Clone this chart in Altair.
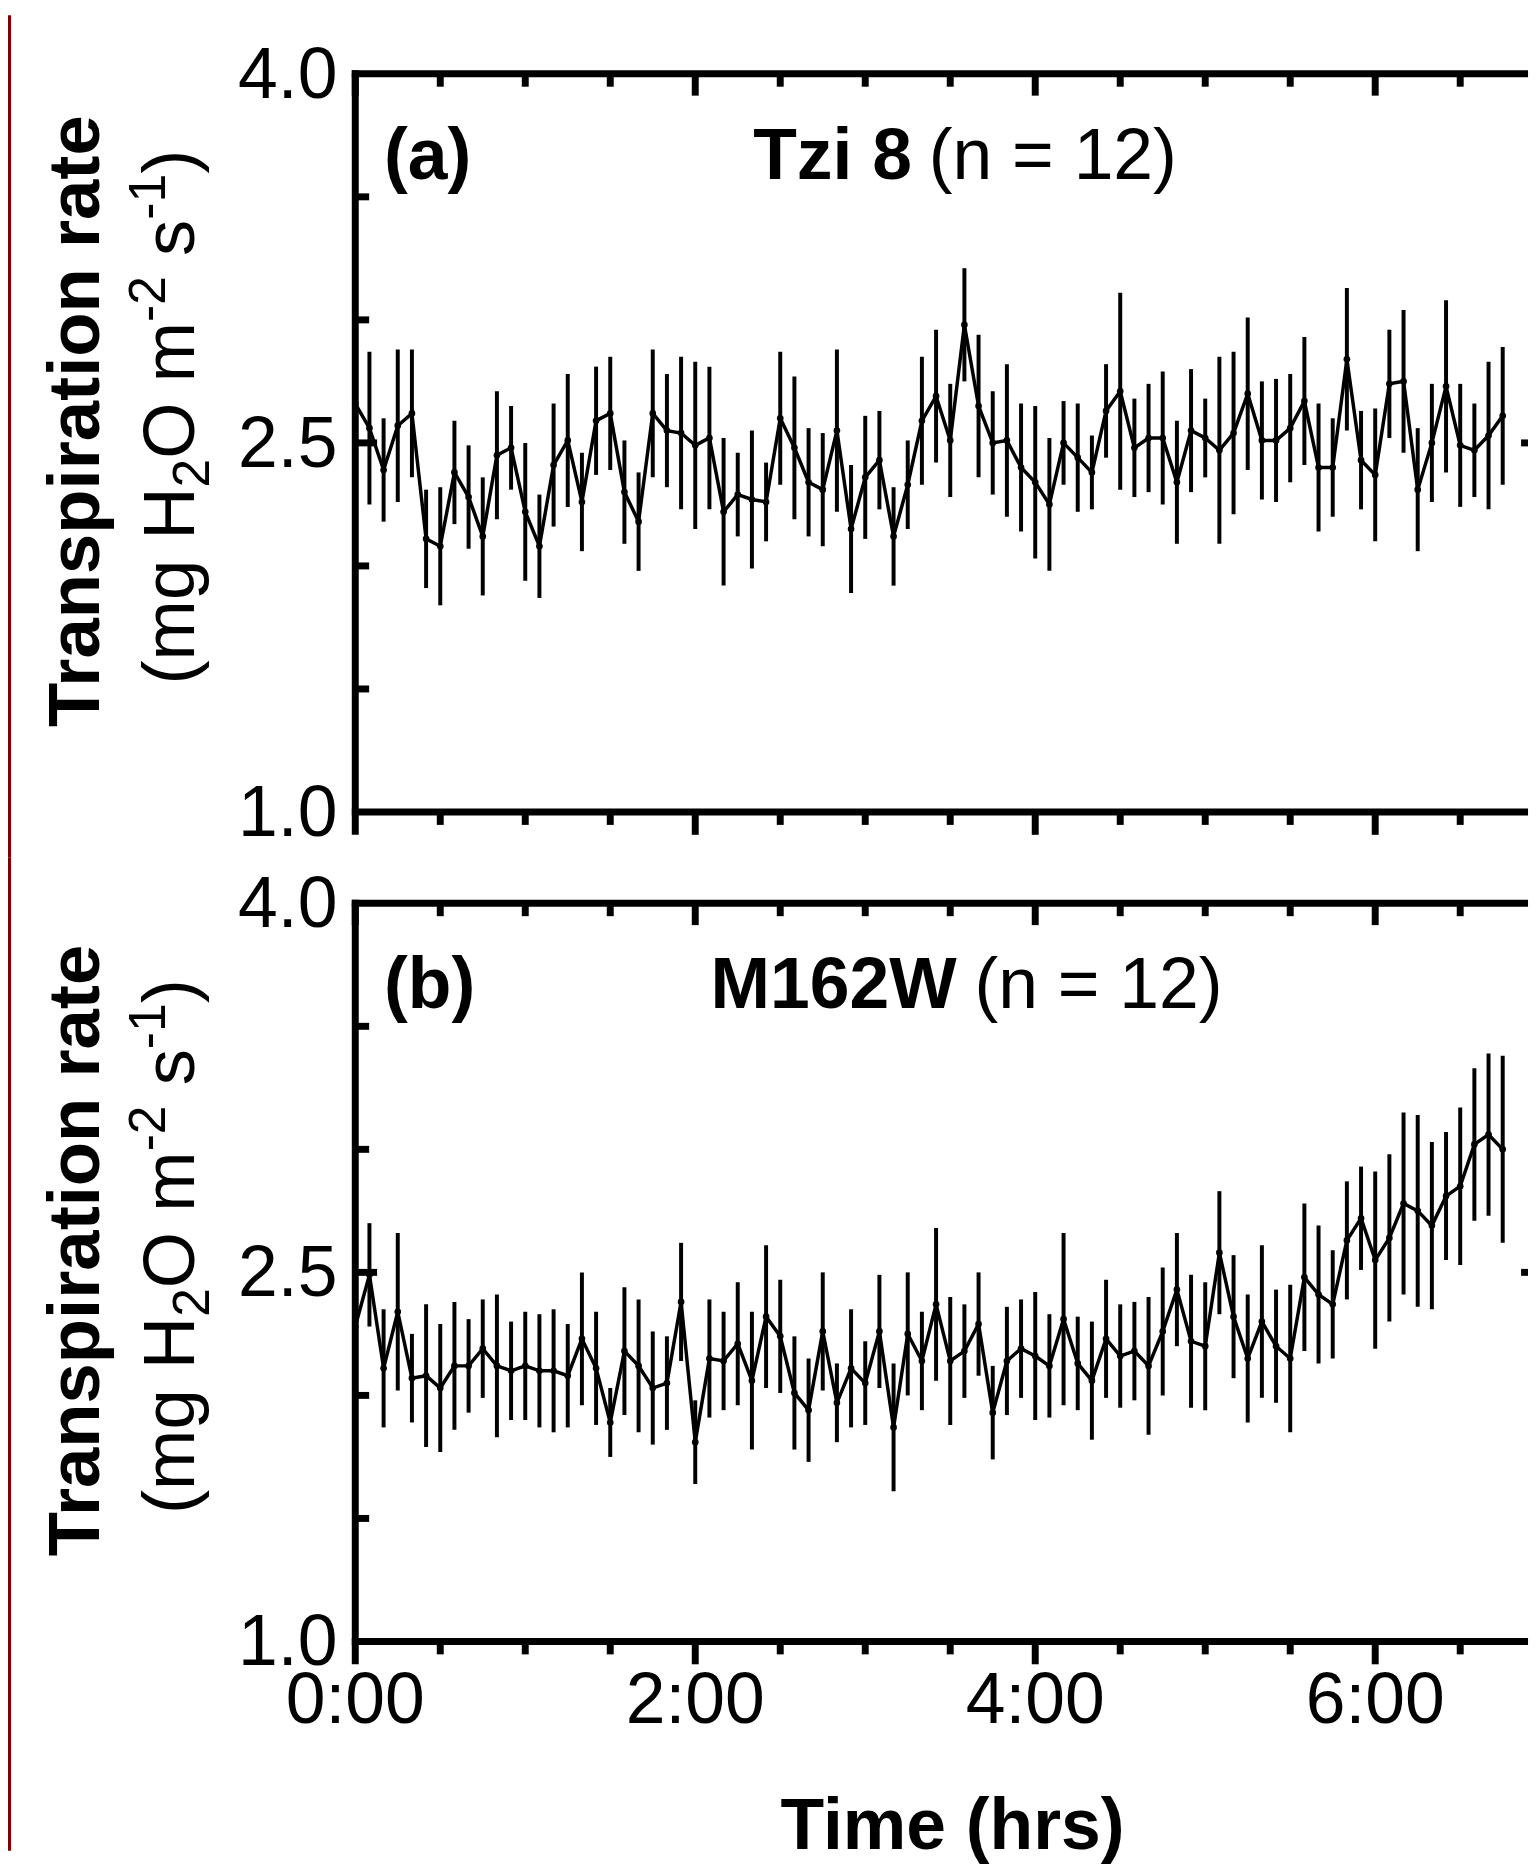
import altair as alt
import pandas as pd

# ---------------- data ----------------
minutes = [0, 5, 10, 15, 20, 25, 30, 35, 40, 45, 50, 55, 60, 65, 70, 75, 80, 85, 90, 95,
           100, 105, 110, 115, 120, 125, 130, 135, 140, 145, 150, 155, 160, 165, 170, 175,
           180, 185, 190, 195, 200, 205, 210, 215, 220, 225, 230, 235, 240, 245, 250, 255,
           260, 265, 270, 275, 280, 285, 290, 295, 300, 305, 310, 315, 320, 325, 330, 335,
           340, 345, 350, 355, 360, 365, 370, 375, 380, 385, 390, 395, 400, 405]

a_mean = [2.66, 2.56, 2.39, 2.57, 2.62, 2.11, 2.08, 2.38, 2.28, 2.12,
          2.45, 2.48, 2.22, 2.08, 2.41, 2.51, 2.26, 2.59, 2.62, 2.30,
          2.18, 2.62, 2.55, 2.54, 2.49, 2.52, 2.22, 2.29, 2.27, 2.26,
          2.60, 2.48, 2.34, 2.31, 2.55, 2.15, 2.36, 2.43, 2.12, 2.33,
          2.59, 2.69, 2.51, 2.98, 2.65, 2.50, 2.51, 2.40, 2.34, 2.25,
          2.50, 2.44, 2.38, 2.63, 2.71, 2.48, 2.52, 2.52, 2.34, 2.55,
          2.52, 2.47, 2.54, 2.70, 2.51, 2.51, 2.56, 2.67, 2.40, 2.40,
          2.84, 2.43, 2.37, 2.74, 2.75, 2.31, 2.50, 2.73, 2.49, 2.47,
          2.53, 2.61]
a_err = [0.25, 0.31, 0.21, 0.31, 0.26, 0.20, 0.24, 0.21, 0.21, 0.24,
         0.26, 0.17, 0.28, 0.21, 0.25, 0.27, 0.20, 0.22, 0.23, 0.21,
         0.20, 0.26, 0.23, 0.31, 0.34, 0.29, 0.30, 0.17, 0.28, 0.16,
         0.27, 0.29, 0.22, 0.23, 0.33, 0.26, 0.25, 0.20, 0.20, 0.18,
         0.26, 0.27, 0.23, 0.23, 0.29, 0.21, 0.31, 0.26, 0.31, 0.27,
         0.17, 0.22, 0.15, 0.19, 0.40, 0.20, 0.22, 0.27, 0.25, 0.25,
         0.16, 0.38, 0.33, 0.31, 0.24, 0.25, 0.22, 0.26, 0.26, 0.20,
         0.29, 0.20, 0.27, 0.22, 0.29, 0.25, 0.24, 0.35, 0.25, 0.19,
         0.30, 0.28]

b_mean = [2.28, 2.49, 2.11, 2.34, 2.07, 2.08, 2.03, 2.12, 2.12, 2.19,
          2.12, 2.10, 2.12, 2.10, 2.10, 2.08, 2.23, 2.11, 1.89, 2.18,
          2.12, 2.03, 2.05, 2.38, 1.81, 2.15, 2.14, 2.21, 2.06, 2.32,
          2.24, 2.01, 1.94, 2.26, 1.97, 2.11, 2.05, 2.26, 1.87, 2.25,
          2.14, 2.37, 2.14, 2.18, 2.29, 1.93, 2.14, 2.19, 2.16, 2.12,
          2.31, 2.13, 2.06, 2.23, 2.16, 2.18, 2.12, 2.26, 2.43, 2.22,
          2.20, 2.58, 2.32, 2.15, 2.30, 2.20, 2.15, 2.48, 2.41, 2.37,
          2.63, 2.72, 2.55, 2.64, 2.78, 2.75, 2.69, 2.81, 2.85, 3.02,
          3.06, 3.00]
b_err = [0.25, 0.21, 0.24, 0.32, 0.18, 0.29, 0.26, 0.26, 0.19, 0.20,
         0.29, 0.20, 0.22, 0.23, 0.25, 0.21, 0.27, 0.23, 0.14, 0.26,
         0.27, 0.23, 0.19, 0.24, 0.17, 0.24, 0.20, 0.25, 0.28, 0.29,
         0.23, 0.23, 0.21, 0.24, 0.16, 0.24, 0.17, 0.23, 0.26, 0.25,
         0.20, 0.31, 0.26, 0.19, 0.21, 0.19, 0.22, 0.20, 0.26, 0.21,
         0.35, 0.19, 0.24, 0.24, 0.21, 0.20, 0.28, 0.26, 0.23, 0.27,
         0.26, 0.25, 0.25, 0.26, 0.31, 0.23, 0.30, 0.30, 0.28, 0.22,
         0.24, 0.21, 0.36, 0.34, 0.37, 0.39, 0.34, 0.26, 0.32, 0.31,
         0.33, 0.38]

# tick positions and tick labels
x_major = [0, 120, 240, 360]                 # minutes
x_labels = ["0:00", "2:00", "4:00", "6:00"]
x_minor = [30, 60, 90, 150, 180, 210, 270, 300, 330, 390]
y_major = [1.0, 2.5, 4.0]
y_labels = ["1.0", "2.5", "4.0"]
y_minor = [1.5, 2.0, 3.0, 3.5]

# ---------------- layout / style ----------------
FONT = "Liberation Sans"
W = 1182           # plot width (px)
H = 744            # plot height (px)
PX_PER_MIN = 171.33 / 60.0
XMAX = W / PX_PER_MIN
FS = 72
TS = 73            # y-title size
SS = 52            # sub/superscript size
BLACK = "#000000"
LW = 7             # frame / tick thickness

REG_W = {'(': 333, ')': 333, 'm': 833, 'g': 556, ' ': 278, 'H': 722, 'O': 778,
         's': 500, '-': 333, '2': 556, '1': 556}


def text_width(s, size):
    return sum(REG_W[c] for c in s) / 1000.0 * size


def make_df(mean, err):
    return pd.DataFrame({
        "minute": minutes,
        "mean": mean,
        "lo": [m - e for m, e in zip(mean, err)],
        "hi": [m + e for m, e in zip(mean, err)],
    })


XS = alt.Scale(domain=[0, XMAX], nice=False, zero=False)
YS = alt.Scale(domain=[1, 4], nice=False, zero=False)


def X(field):
    return alt.X(field, scale=XS, axis=None)


def Y(field):
    return alt.Y(field, scale=YS, axis=None)


def txt(s, x, y, size=FS, weight="normal", angle=0, align="left", dx=0, dy=0):
    return alt.Chart(alt.Data(values=[{}])).mark_text(
        text=s, font=FONT, fontSize=size, fontWeight=weight, angle=angle,
        align=align, baseline="alphabetic", dx=dx, dy=dy, color=BLACK
    ).encode(x=alt.value(x), y=alt.value(y))


def strip(y0, y1):
    return alt.Chart(alt.Data(values=[{}])).mark_rect(color="#7f0000").encode(
        x=alt.value(-350), x2=alt.value(-347), y=alt.value(y0), y2=alt.value(y1))


def vticks(vals, y0, y1):
    df = pd.DataFrame({"minute": vals})
    return alt.Chart(df).mark_rule(color=BLACK, strokeWidth=LW).encode(
        x=X("minute:Q"), y=alt.value(y0), y2=alt.value(y1))


def hticks(vals, x0, x1):
    df = pd.DataFrame({"level": vals})
    return alt.Chart(df).mark_rule(color=BLACK, strokeWidth=LW).encode(
        y=Y("level:Q"), x=alt.value(x0), x2=alt.value(x1))


def frame(show_xlabels):
    half = LW / 2.0
    layers = [
        hticks([4.0], -half, W),                      # top frame line
        hticks([1.0], -half, W),                      # bottom frame line
        vticks([0], -half, H + 23),                   # left frame + 0:00 tick
        vticks(x_major[1:], H, H + 23),               # bottom, outward, major
        vticks(x_minor, H, H + 13),                   # bottom, outward, minor
        vticks(x_major, 0, 22),                       # top, inward, major
        vticks(x_minor, 0, 13),                       # top, inward, minor
        hticks([2.5], 0, 22),                         # left, inward, major
        hticks(y_minor, 0, 14),                       # left, inward, minor
        hticks([2.5], W - 7, W),                      # right edge tick (cut off)
    ]
    ydf = pd.DataFrame({"level": y_major, "label": y_labels})
    layers.append(alt.Chart(ydf).mark_text(
        font=FONT, fontSize=FS, align="right", baseline="middle", color=BLACK, dy=2
    ).encode(y=Y("level:Q"), x=alt.value(-18), text="label:N"))
    if show_xlabels:
        xdf = pd.DataFrame({"minute": x_major, "label": x_labels})
        layers.append(alt.Chart(xdf).mark_text(
            font=FONT, fontSize=FS, align="center", baseline="alphabetic", color=BLACK
        ).encode(x=X("minute:Q"), y=alt.value(H + 82), text="label:N"))
    return layers


def y_titles():
    out = [txt("Transpiration rate", -258, 350, size=TS, weight="bold", angle=270, align="center")]
    # (text, font size, baseline shift, extra gap before)
    pieces = [("(mg H", TS, 0, 0), ("2", SS, 16, 0), ("O m", TS, 0, 0), ("-2", SS, -29, 0),
              ("s", TS, 0, text_width(" ", TS)), ("-1", SS, -29, 0), (")", TS, 0, 0)]
    total = sum(text_width(p, s) + g for p, s, _, g in pieces)
    start_y = 346 + total / 2.0
    adv = 0.0
    for p, s, d, g in pieces:
        adv += g
        out.append(txt(p, -163, start_y, size=s, angle=270, align="left", dx=adv, dy=d))
        adv += text_width(p, s)
    return out


def panel(mean, err, tag, name, name_x, n_x, show_xlabels, strip_range, extra):
    df = make_df(mean, err)
    base = alt.Chart(df)
    bars = base.mark_rule(color=BLACK, strokeWidth=4).encode(
        x=X("minute:Q"), y=Y("lo:Q"), y2="hi:Q")
    line = base.mark_line(color=BLACK, strokeWidth=3.5).encode(
        x=X("minute:Q"), y=Y("mean:Q"))
    pts = base.mark_point(filled=True, size=45, color=BLACK, opacity=1).encode(
        x=X("minute:Q"), y=Y("mean:Q"))
    texts = [
        txt(tag, 29, 106, weight="bold"),
        txt(name, name_x, 106, weight="bold"),
        txt("(n = 12)", n_x, 106),
    ] + y_titles() + extra
    layers = [bars, line, pts] + frame(show_xlabels) + [strip(*strip_range)] + texts
    return alt.layer(*layers).properties(width=W, height=H)


panel_a = panel(a_mean, a_err, "(a)", "Tzi 8", 401, 578, False, (-59, 790), [])
panel_b = panel(b_mean, b_err, "(b)", "M162W", 358, 624, True, (-46, 955),
                [txt("Time (hrs)", 602, 953, weight="bold", align="center")])

chart = alt.vconcat(panel_a, panel_b, spacing=0).properties(
    padding=0, background="white"
).configure_view(stroke=None)

chart.save("out.html", embed_options={"renderer": "svg", "actions": False})
